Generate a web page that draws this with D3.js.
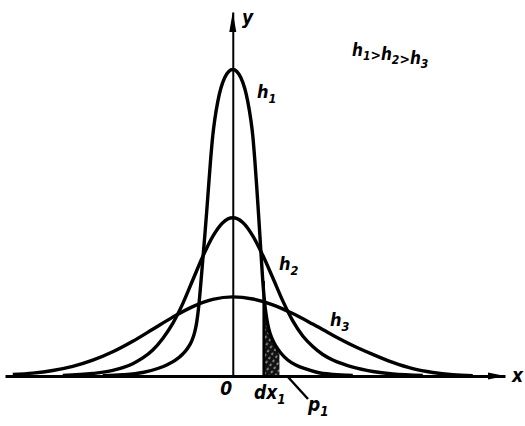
<!DOCTYPE html>
<html>
<head>
<meta charset="utf-8">
<script src="https://cdn.jsdelivr.net/npm/d3@7"></script>
<style>
  html, body { margin: 0; padding: 0; background: #fff; }
  svg { display: block; }
  .lbl { font-family: "DejaVu Sans Condensed", "Liberation Sans Narrow", "DejaVu Sans", sans-serif; font-style: italic; font-weight: bold; fill: #000; }
</style>
</head>
<body>
<script>
// ---- data (x along the axis, y in units of the h3 peak) ----
const h1X = [-1.170, -0.990, -0.810, -0.675, -0.585, -0.513, -0.450, -0.405, -0.369, -0.342, -0.324, -0.306, -0.288, -0.270, -0.252, -0.234, -0.216, -0.198, -0.180, -0.162, -0.135, -0.108, -0.072, -0.036, 0,
             0.036, 0.072, 0.108, 0.135, 0.162, 0.180, 0.198, 0.216, 0.234, 0.252, 0.270, 0.288, 0.306, 0.324, 0.351, 0.387, 0.432, 0.495, 0.567, 0.657, 0.765, 0.900, 1.080];
const h1Y = [0.005, 0.015, 0.044, 0.095, 0.146, 0.203, 0.278, 0.354, 0.443, 0.557, 0.684, 0.886, 1.165, 1.468, 1.772, 2.089, 2.430, 2.759, 3.038, 3.241, 3.468, 3.633, 3.772, 3.848, 3.873,
             3.848, 3.772, 3.633, 3.468, 3.241, 3.038, 2.734, 2.380, 2.000, 1.595, 1.203, 0.911, 0.722, 0.595, 0.481, 0.380, 0.291, 0.203, 0.139, 0.089, 0.044, 0.019, 0.006];

const h2X = [-1.530, -1.260, -1.080, -0.990, -0.900, -0.810, -0.720, -0.630, -0.540, -0.450, -0.360, -0.270, -0.180, -0.090, 0,
             0.090, 0.180, 0.270, 0.360, 0.450, 0.540, 0.630, 0.720, 0.810, 0.900, 0.990, 1.080, 1.260, 1.440, 1.710];
const h2Y = [0.006, 0.032, 0.071, 0.105, 0.156, 0.228, 0.329, 0.475, 0.665, 0.915, 1.213, 1.510, 1.765, 1.938, 2.000,
             1.941, 1.772, 1.525, 1.241, 0.949, 0.696, 0.506, 0.373, 0.272, 0.203, 0.152, 0.111, 0.057, 0.025, 0.006];

const h3X = [-1.980, -1.800, -1.620, -1.440, -1.260, -1.080, -0.900, -0.720, -0.540, -0.360, -0.180, 0,
             0.180, 0.360, 0.540, 0.720, 0.900, 1.080, 1.260, 1.440, 1.620, 1.800, 1.980, 2.160];
const h3Y = [0.019, 0.037, 0.070, 0.122, 0.200, 0.306, 0.439, 0.591, 0.744, 0.877, 0.968, 1.000,
             0.973, 0.900, 0.789, 0.656, 0.516, 0.386, 0.273, 0.171, 0.092, 0.044, 0.016, 0.005];

const xDomain = [-2.05, 2.45];
const yDomain = [0, 4.6];
const xTicks = [0];
const xTickLabels = ["0"];
const strip = [0.27, 0.42];   // x1 and x1 + dx1
const stripTop = 1.2;

// ---- drawing ----
const W = 525, H = 426;
const svg = d3.select("body").append("svg").attr("width", W).attr("height", H);

const x = d3.scaleLinear().domain(xDomain).range([5, 505]);
const y = d3.scaleLinear().domain(yDomain).range([376, 12]);

const defs = svg.append("defs");
const pat = defs.append("pattern").attr("id", "hatch").attr("patternUnits", "userSpaceOnUse")
  .attr("width", 5).attr("height", 5).attr("patternTransform", "rotate(-55)");
pat.append("rect").attr("width", 5).attr("height", 5).attr("fill", "#111");
pat.append("line").attr("x1", 0).attr("y1", 1).attr("x2", 2.5).attr("y2", 1)
  .attr("stroke", "#d8d8d8").attr("stroke-width", 1.1);
defs.append("clipPath").attr("id", "stripClip").append("rect")
  .attr("x", x(strip[0])).attr("y", 0).attr("width", x(strip[1]) - x(strip[0])).attr("height", H);

const toPts = (xs, ys) => xs.map((v, i) => [v, ys[i]]);
const curve = d3.curveMonotoneX;
const line = d3.line().x(d => x(d[0])).y(d => y(d[1])).curve(curve);
const area = d3.area().x(d => x(d[0])).y0(y(0)).y1(d => y(d[1])).curve(curve);

// shaded strip under h1
svg.append("path").attr("d", area(toPts(h1X, h1Y))).attr("fill", "url(#hatch)")
  .attr("clip-path", "url(#stripClip)");
svg.append("line").attr("x1", x(strip[0]) + 1).attr("x2", x(strip[0]) + 1)
  .attr("y1", y(0)).attr("y2", y(stripTop)).attr("stroke", "#000").attr("stroke-width", 2.5);

// axes
const xAxis = svg.append("g").attr("transform", `translate(0,${y(0)})`)
  .call(d3.axisBottom(x).tickValues(xTicks).tickSize(0).tickFormat((d, i) => xTickLabels[i]));
xAxis.select(".domain").attr("stroke", "#000").attr("stroke-width", 3);
xAxis.selectAll(".tick text").attr("class", "lbl").attr("font-size", 19)
  .attr("dx", -7).attr("dy", 16);

const yAxis = svg.append("g").attr("transform", `translate(${x(0)},0)`)
  .call(d3.axisLeft(y).tickValues([]).tickSize(0));
yAxis.select(".domain").attr("stroke", "#000").attr("stroke-width", 2);

// arrowheads
const xEnd = x(xDomain[1]), yTop = y(yDomain[1]);
svg.append("path").attr("d", `M${xEnd},${y(0)} L${xEnd - 17},${y(0) - 3.5} L${xEnd - 17},${y(0) + 3.5} Z`).attr("fill", "#000");
svg.append("path").attr("d", `M${x(0)},${yTop} L${x(0) - 3.5},${yTop + 20} L${x(0) + 3.5},${yTop + 20} Z`).attr("fill", "#000");

// curves
[[h1X, h1Y], [h2X, h2Y], [h3X, h3Y]].forEach(([xs, ys]) => {
  svg.append("path").attr("d", line(toPts(xs, ys))).attr("fill", "none")
    .attr("stroke", "#000").attr("stroke-width", 3.4).attr("stroke-linejoin", "round");
});

// leader for p1
svg.append("line").attr("x1", 288).attr("y1", 377).attr("x2", 308).attr("y2", 399)
  .attr("stroke", "#000").attr("stroke-width", 2.4);

// labels
function sub(g, base, idx, px, py, size) {
  const t = g.append("text").attr("class", "lbl").attr("x", px).attr("y", py).attr("font-size", size);
  t.append("tspan").text(base);
  t.append("tspan").attr("font-size", size * 0.7).attr("dy", size * 0.25).text(idx);
  return t;
}
svg.append("text").attr("class", "lbl").attr("x", 242).attr("y", 24).attr("font-size", 19).text("y");
svg.append("text").attr("class", "lbl").attr("x", 512).attr("y", 382).attr("font-size", 19).text("x");
sub(svg, "h", "1", 257, 98, 18);
sub(svg, "h", "2", 279, 270, 18);
sub(svg, "h", "3", 330, 326, 18);
sub(svg, "dx", "1", 254, 399, 19);
sub(svg, "p", "1", 308, 411, 19);

const order = svg.append("text").attr("class", "lbl").attr("x", 352).attr("y", 56).attr("font-size", 17);
[["h", "1"], [">", null], ["h", "2"], [">", null], ["h", "3"]].forEach(([b, s]) => {
  if (s) {
    order.append("tspan").text(b);
    order.append("tspan").attr("font-size", 12).attr("dy", 4).text(s);
    order.append("tspan").attr("dy", -4).text("");
  } else {
    order.append("tspan").attr("font-size", 14).text(b);
  }
});
</script>
</body>
</html>
